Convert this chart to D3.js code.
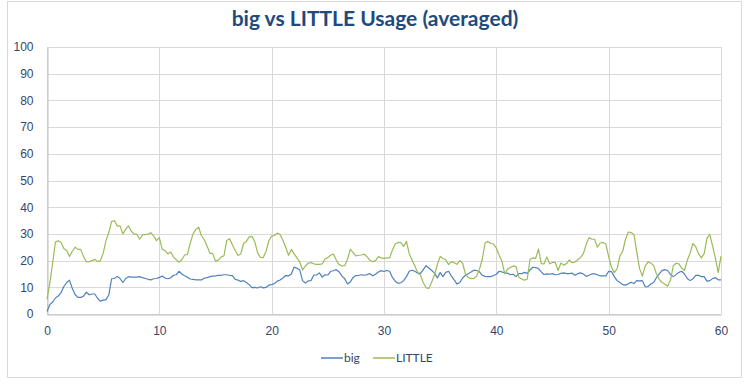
<!DOCTYPE html>
<html>
<head>
<meta charset="utf-8">
<script src="https://cdn.jsdelivr.net/npm/d3@7"></script>
<style>
  body { margin: 0; background: #ffffff; }
  svg { display: block; font-family: Lato, "Open Sans", "Liberation Sans", sans-serif; }
</style>
</head>
<body>
<div id="plot"></div>
<script>
// seconds between samples
var sampleStep = 0.25;

var xTicks = [0, 10, 20, 30, 40, 50, 60];
var yTicks = [0, 10, 20, 30, 40, 50, 60, 70, 80, 90, 100];

var seriesNames = ["big", "LITTLE"];

var bigValues = [
  0.9, 3.5, 4.5, 6, 6.7, 8, 10.3, 11.8, 12.7, 9.6,
  7.3, 6.2, 6.2, 6.7, 8.2, 7.2, 7.5, 7.5, 5.9, 4.8,
  5.2, 5.4, 7.1, 13.2, 13.3, 14.1, 13.3, 11.8, 13.2, 14,
  13.8, 13.8, 13.8, 14, 13.6, 13.3, 13, 12.8, 13.2, 13.3, 13.7,
  14.2, 13.5, 13.2, 13.5, 14.5, 14.7, 16, 15, 14.3, 13.75,
  13.1, 13, 12.75, 12.75, 12.75, 13.4, 13.6, 14, 14.2, 14.25,
  14.5, 14.5, 14.7, 14.7, 14.5, 14.4, 13, 12.7, 12.2, 12.5,
  11.8, 11, 9.9, 10, 9.75, 10.2, 9.8, 10, 10.8, 11,
  11.4, 12.3, 12.75, 13.5, 14.4, 14.25, 15, 17.6, 17.1, 16.5,
  12.5, 11.6, 12.4, 12.5, 14.6, 14.6, 15.4, 13.8, 14.7, 14.6,
  16, 16.2, 16.6, 15.8, 14.3, 13.25, 11.25, 12, 13.7, 14.4,
  14.5, 14.7, 14.5, 14.75, 15.1, 14.3, 14.9, 15.75, 16.25, 15.9,
  16.3, 16, 13.7, 12.3, 11.5, 11.7, 12.5, 14, 16, 16.4,
  16, 15.3, 15.2, 16.6, 18.1, 17.2, 16.3, 15.3, 13.5, 15.5,
  14, 15.6, 16, 14.2, 12.75, 11.2, 11.8, 13.5, 14.5, 15.1,
  15.7, 16.4, 16.3, 15.8, 14.5, 14.1, 14, 14, 14.4, 14.9,
  16, 15.75, 15.4, 15.3, 14.7, 14.9, 14, 15.1, 15.1, 15.6,
  15.2, 16.5, 17.5, 17.4, 17, 15.8, 14.8, 15, 14.9, 15.1,
  14.7, 14.8, 15.25, 15.4, 15.1, 15.1, 15.3, 14.5, 15.1, 15.4,
  15, 14.1, 14.5, 15, 15, 14.7, 14.25, 14.25, 14.3, 16,
  15.9, 14, 12.5, 11.8, 11, 10.8, 11.3, 11.9, 11.4, 12.5,
  12.4, 12.5, 10.2, 10.25, 11.25, 11.8, 13.6, 15, 16.25, 16.6,
  16.3, 14.8, 14, 14.75, 15.6, 16, 15, 13.3, 12.5, 13.2,
  14.5, 14.5, 14, 14, 12.3, 12.5, 13.25, 13.6, 12.8, 12.75
];

var littleValues = [
  5.5, 11.5, 19, 27, 27.4, 26.8, 24.5, 23.8, 21.5, 23.5,
  25, 24.2, 24.2, 21.5, 19.5, 19.6, 20, 20.5, 19.6, 20,
  22.7, 27.5, 30.5, 34.6, 35, 33, 33, 30, 31.7, 33,
  31, 30, 29.8, 28, 29.7, 29.7, 29.9, 30.5, 29.2, 27.5, 28.6,
  24.3, 23.8, 22.5, 23.2, 21.5, 20.3, 19.4, 20.3, 22.1, 22.3,
  26.5, 30, 31.7, 32.5, 29.3, 27.8, 25.5, 22.7, 22.7, 19.8,
  20.2, 21.3, 21.8, 27.5, 28.2, 25.9, 23.9, 21.9, 22.5, 26.5,
  27.2, 28.9, 29.1, 27, 22.9, 21.2, 21.1, 23.5, 27.5, 29.2,
  29.4, 30.3, 29.8, 27.6, 25, 22, 24.2, 22.5, 21, 19.5,
  16.5, 17.9, 19.1, 19.25, 18.8, 18.6, 18.6, 18.8, 20.6, 21.1,
  22, 22.5, 20.2, 18.5, 18, 18.1, 20.5, 24.2, 23, 21.75,
  22, 22.1, 22.4, 21.4, 20.1, 19.6, 20, 21.5, 21, 20.8,
  21, 21, 24, 26.2, 26.8, 26.7, 25.3, 27.2, 22.5, 20.2,
  18, 15.5, 14.5, 11.7, 9.8, 9.6, 12, 14.8, 18.5, 21.6,
  20.8, 20.3, 18.5, 19.6, 19.2, 18.6, 20, 19, 15, 13.6,
  13.25, 13.3, 14.2, 16.8, 20.5, 26.6, 27.2, 26.5, 26.2, 24.7,
  22, 19.8, 15, 16.8, 17.4, 18, 17.8, 13.8, 13.1, 12.7,
  13, 20.5, 21, 20.8, 24.3, 18.9, 18.8, 21.4, 18.8, 19.3,
  19.3, 16.3, 19.1, 18.3, 18.9, 20.3, 19.2, 19.5, 20.3, 21.2,
  22.6, 26.1, 28.6, 28, 28, 25, 26.6, 26.8, 26.2, 21.5,
  17.5, 15.5, 17, 21.7, 23.5, 28, 30.7, 30.5, 29.8, 23.3,
  17, 14.2, 17.9, 19.5, 19.1, 18.2, 15.1, 13, 11.8, 11.2,
  10.4, 12.6, 18, 19, 18.8, 17.2, 16.3, 20.1, 22.8, 26.4,
  25.2, 22.6, 21, 22.6, 28.3, 29.8, 25.5, 20.9, 15.5, 21.7
];

function colorSeries(name) {
  if (name == "big") {
    return "#4f81bd";
  }
  else if (name == "LITTLE") {
    return "#9bbb59";
  }
}

var width = 750, height = 386;
var margin = { top: 47, right: 29, bottom: 72, left: 47 };

var svg = d3.select("#plot")
  .append("svg")
  .attr("width", width)
  .attr("height", height);

// chart frame
svg.append("rect")
  .attr("x", 7.5)
  .attr("y", 1.5)
  .attr("width", 734)
  .attr("height", 376)
  .attr("fill", "#ffffff")
  .attr("stroke", "#d9d9d9");

var x = d3.scaleLinear()
  .domain([0, 60])
  .range([margin.left, width - margin.right]);

var y = d3.scaleLinear()
  .domain([0, 100])
  .range([height - margin.bottom, margin.top]);

// gridlines
svg.append("g")
  .selectAll("line")
  .data(yTicks)
  .enter().append("line")
  .attr("x1", x(0))
  .attr("x2", x(60))
  .attr("y1", function (d) { return Math.round(y(d)) + 0.5; })
  .attr("y2", function (d) { return Math.round(y(d)) + 0.5; })
  .attr("stroke", "#d9d9d9");

svg.append("g")
  .selectAll("line")
  .data(xTicks)
  .enter().append("line")
  .attr("x1", function (d) { return Math.round(x(d)) + 0.5; })
  .attr("x2", function (d) { return Math.round(x(d)) + 0.5; })
  .attr("y1", y(0))
  .attr("y2", y(100))
  .attr("stroke", "#d9d9d9");

// axes, drawn by d3 then restyled like the excel ones
var yAxis = svg.append("g")
  .attr("transform", "translate(" + (Math.round(x(0)) + 0.5) + ",0)")
  .call(d3.axisLeft(y).tickValues(yTicks).tickSize(0).tickPadding(14));

var xAxis = svg.append("g")
  .attr("transform", "translate(0," + (Math.round(y(0)) + 0.5) + ")")
  .call(d3.axisBottom(x).tickValues(xTicks).tickSize(0).tickPadding(12));

[yAxis, xAxis].forEach(function (ax) {
  ax.select(".domain").attr("stroke", "#bfbfbf");
  ax.selectAll("text")
    .attr("fill", "#34466e")
    .style("font-size", "12px");
});

// lines
var lineData = [
  { name: "big", values: bigValues },
  { name: "LITTLE", values: littleValues }
];

var line = d3.line()
  .x(function (d, i) { return x(i * sampleStep); })
  .y(function (d) { return y(d); });

svg.append("g")
  .selectAll("path")
  .data(lineData)
  .enter().append("path")
  .attr("d", function (d) { return line(d.values); })
  .attr("fill", "none")
  .attr("stroke", function (d) { return colorSeries(d.name); })
  .attr("stroke-width", 1.2)
  .attr("stroke-linejoin", "round");

// title
svg.append("text")
  .attr("x", 375)
  .attr("y", 26)
  .attr("text-anchor", "middle")
  .attr("fill", "#1f4a7c")
  .style("font-size", "21px")
  .style("font-weight", "bold")
  .text("big vs LITTLE Usage (averaged)");

// legend
var legendX = [321, 373];
var legend = svg.append("g")
  .selectAll("g")
  .data(seriesNames)
  .enter().append("g")
  .attr("transform", function (d, i) { return "translate(" + legendX[i] + ",358)"; });

legend.append("line")
  .attr("x1", 0)
  .attr("x2", 22)
  .attr("stroke", function (d) { return colorSeries(d); })
  .attr("stroke-width", 1.5);

legend.append("text")
  .attr("x", 23)
  .attr("y", 4)
  .attr("fill", "#34466e")
  .style("font-size", "12px")
  .text(function (d) { return d; });
</script>
</body>
</html>
